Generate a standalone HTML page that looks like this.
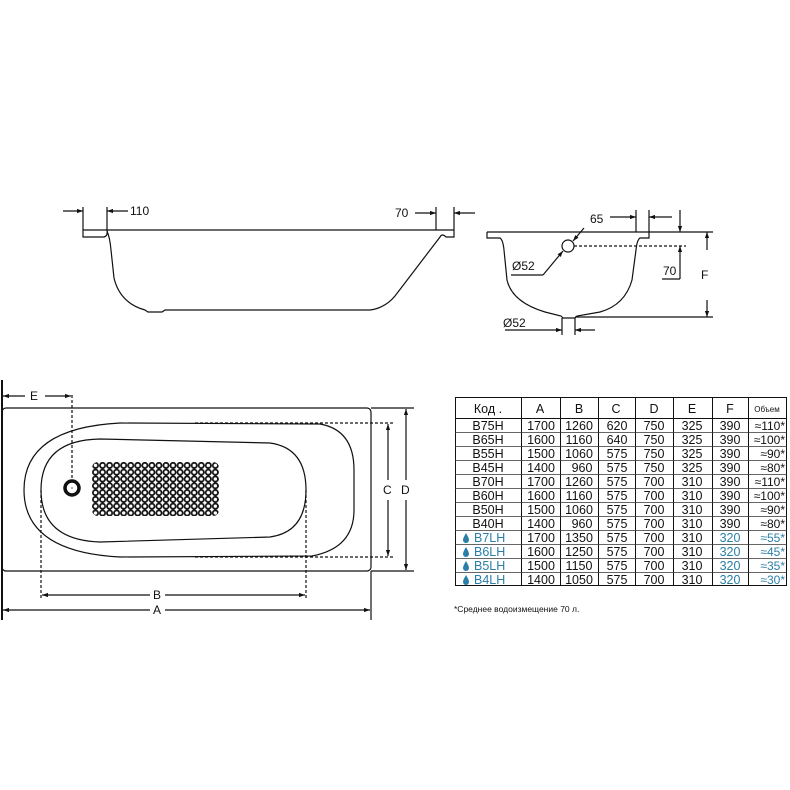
<!DOCTYPE html>
<html><head><meta charset="utf-8"><style>
body{margin:0;background:#fff}
svg{display:block}
text{font-family:"Liberation Sans","DejaVu Sans",sans-serif;fill:#111}
</style></head><body>
<svg width="790" height="790" viewBox="0 0 790 790" xmlns="http://www.w3.org/2000/svg">
<defs>
<marker id="ar" viewBox="0 0 10 10" refX="10" refY="5" markerWidth="7" markerHeight="5" orient="auto-start-reverse"><path d="M0,1.5 L10,5 L0,8.5 z" fill="#111"/></marker>
<pattern id="grid" x="92" y="462" width="7.05" height="6.8" patternUnits="userSpaceOnUse">
<circle cx="3.5" cy="3.4" r="2.6" fill="#fff" stroke="#111" stroke-width="1.8"/>
</pattern>
</defs>
<g fill="none" stroke="#111" stroke-width="1.2">
<line x1="83" y1="230" x2="454" y2="230"/>
<path d="M83,230 L83,237 L104,237 Q108,236 107,230"/>
<path d="M107,231 Q110,238 111,250 L114,278 Q120,303 145,310 L148,312 L162,312 L165,310 L370,310 Q385,308 395,296 L440,237 Q442,233 446,237 L454,237 L454,230"/>
<line x1="83" y1="207" x2="83" y2="230"/><line x1="107" y1="207" x2="107" y2="230"/>
<line x1="63" y1="211" x2="83" y2="211" marker-end="url(#ar)"/>
<line x1="128" y1="211" x2="107" y2="211" marker-end="url(#ar)"/>
<line x1="436" y1="207" x2="436" y2="230"/><line x1="454" y1="207" x2="454" y2="230"/>
<line x1="415" y1="213" x2="436" y2="213" marker-end="url(#ar)"/>
<line x1="475" y1="213" x2="454" y2="213" marker-end="url(#ar)"/>
<line x1="487" y1="232" x2="713" y2="232"/>
<path d="M487,232 L487,238 L500,238 Q503,240 504,250 L507,280 Q512,302 545,312 L561,316 L563,318 L575,318 L577,316 L600,312 Q625,305 632,280 L636,250 Q637,240 640,238 L649,238 L649,232"/>
<circle cx="568" cy="246" r="6"/>
<line x1="574" y1="246" x2="686" y2="246" stroke-dasharray="3,2"/>
<line x1="543" y1="275" x2="511" y2="275"/>
<line x1="543" y1="275" x2="563" y2="251" marker-end="url(#ar)"/>
<line x1="584" y1="228" x2="573" y2="241" marker-end="url(#ar)"/>
<line x1="636" y1="210" x2="636" y2="232"/><line x1="649" y1="210" x2="649" y2="232"/>
<line x1="610" y1="217" x2="636" y2="217" marker-end="url(#ar)"/>
<line x1="672" y1="217" x2="649" y2="217" marker-end="url(#ar)"/>
<line x1="680" y1="210" x2="680" y2="232" marker-end="url(#ar)"/>
<line x1="680" y1="268" x2="680" y2="246" marker-end="url(#ar)"/>
<line x1="680" y1="268" x2="680" y2="279"/><line x1="662" y1="279" x2="680" y2="279"/>
<line x1="707" y1="250" x2="707" y2="232" marker-end="url(#ar)"/>
<line x1="707" y1="300" x2="707" y2="317" marker-end="url(#ar)"/>
<line x1="575" y1="317" x2="713" y2="317"/>
<line x1="562" y1="318" x2="562" y2="335"/><line x1="575" y1="318" x2="575" y2="335"/>
<line x1="505" y1="330" x2="562" y2="330" marker-end="url(#ar)"/>
<line x1="595" y1="330" x2="575" y2="330" marker-end="url(#ar)"/>
<rect x="2" y="408" width="369" height="163" rx="4"/>
<line x1="2" y1="380" x2="2" y2="620" stroke-width="2"/>
<path d="M120,423 L320,424 Q354,430 354,470 L354,510 Q354,548 312,556 L120,557 Q24,552 24,490 Q24,428 120,423 Z"/>
<path d="M100,439 L270,443 Q306,448 306,490 Q306,532 270,537 L100,542 Q41,540 41,490 Q41,440 100,439 Z"/>
<line x1="195" y1="423" x2="395" y2="423" stroke-dasharray="3,2"/>
<line x1="195" y1="557" x2="395" y2="557" stroke-dasharray="3,2"/>
<line x1="371" y1="408" x2="414" y2="408"/><line x1="371" y1="571" x2="414" y2="571"/>
<line x1="371" y1="571" x2="371" y2="620"/>
<line x1="72" y1="395" x2="72" y2="481" stroke-dasharray="3,2"/>
<line x1="41" y1="490" x2="41" y2="600" stroke-dasharray="3,2"/>
<line x1="306" y1="490" x2="306" y2="600" stroke-dasharray="3,2"/>
<line x1="388" y1="480" x2="388" y2="424" marker-end="url(#ar)"/>
<line x1="388" y1="500" x2="388" y2="556" marker-end="url(#ar)"/>
<line x1="406" y1="480" x2="406" y2="409" marker-end="url(#ar)"/>
<line x1="406" y1="500" x2="406" y2="570" marker-end="url(#ar)"/>
<line x1="25" y1="396" x2="3" y2="396" marker-end="url(#ar)"/>
<line x1="45" y1="396" x2="71" y2="396" marker-end="url(#ar)"/>
<line x1="150" y1="595" x2="42" y2="595" marker-end="url(#ar)"/>
<line x1="165" y1="595" x2="305" y2="595" marker-end="url(#ar)"/>
<line x1="150" y1="610" x2="3" y2="610" marker-end="url(#ar)"/>
<line x1="165" y1="610" x2="370" y2="610" marker-end="url(#ar)"/>
</g>
<rect x="92" y="462" width="127" height="54" rx="6" fill="url(#grid)"/>
<circle cx="72" cy="488" r="7" fill="#fff" stroke="#111" stroke-width="3.5"/>
<circle cx="72" cy="488" r="1" fill="#999"/>
<g font-size="12">
<text x="130" y="215">110</text>
<text x="395" y="217">70</text>
<text x="590" y="223">65</text>
<text x="512" y="270">Ø52</text>
<text x="663" y="275">70</text>
<text x="701" y="279">F</text>
<text x="503" y="327">Ø52</text>
<text x="30" y="400">E</text>
<text x="383" y="494">C</text>
<text x="401" y="494">D</text>
<text x="153" y="599">B</text>
<text x="153" y="614">A</text>
</g>
<g stroke="#111" stroke-width="1" fill="none">
<rect x="455.5" y="397.5" width="331" height="188"/>
<line x1="455" y1="418.5" x2="787" y2="418.5"/>
<line x1="521.5" y1="397" x2="521.5" y2="586"/>
<line x1="560.5" y1="397" x2="560.5" y2="586"/>
<line x1="598.5" y1="397" x2="598.5" y2="586"/>
<line x1="635.5" y1="397" x2="635.5" y2="586"/>
<line x1="673.5" y1="397" x2="673.5" y2="586"/>
<line x1="712.5" y1="397" x2="712.5" y2="586"/>
<line x1="748.5" y1="397" x2="748.5" y2="586"/>
</g>
<g stroke="#333" stroke-width="0.8">
<line x1="455" y1="432.5" x2="787" y2="432.5"/><line x1="455" y1="446.5" x2="787" y2="446.5"/>
<line x1="455" y1="460.5" x2="787" y2="460.5"/><line x1="455" y1="474.5" x2="787" y2="474.5"/>
<line x1="455" y1="488.5" x2="787" y2="488.5"/><line x1="455" y1="502.5" x2="787" y2="502.5"/>
<line x1="455" y1="516.5" x2="787" y2="516.5"/><line x1="455" y1="530.5" x2="787" y2="530.5"/>
<line x1="455" y1="544.5" x2="787" y2="544.5"/><line x1="455" y1="558.5" x2="787" y2="558.5"/>
<line x1="455" y1="572.5" x2="787" y2="572.5"/>
</g>
<g font-size="12.5" text-anchor="middle">
<text x="488" y="413">Код .</text><text x="540" y="413">A</text><text x="579" y="413">B</text><text x="616" y="413">C</text><text x="654" y="413">D</text><text x="692" y="413">E</text><text x="730" y="413">F</text><text x="767" y="412" font-size="8">Объем</text>
</g>
<g font-size="12.5">
<g text-anchor="middle">
<text y="430"><tspan x="488">B75H</tspan><tspan x="541">1700</tspan><tspan x="579">1260</tspan><tspan x="617">620</tspan><tspan x="654">750</tspan><tspan x="692">325</tspan><tspan x="730">390</tspan></text>
<text y="444"><tspan x="488">B65H</tspan><tspan x="541">1600</tspan><tspan x="579">1160</tspan><tspan x="617">640</tspan><tspan x="654">750</tspan><tspan x="692">325</tspan><tspan x="730">390</tspan></text>
<text y="458"><tspan x="488">B55H</tspan><tspan x="541">1500</tspan><tspan x="579">1060</tspan><tspan x="617">575</tspan><tspan x="654">750</tspan><tspan x="692">325</tspan><tspan x="730">390</tspan></text>
<text y="472"><tspan x="488">B45H</tspan><tspan x="541">1400</tspan><tspan x="582">960</tspan><tspan x="617">575</tspan><tspan x="654">750</tspan><tspan x="692">325</tspan><tspan x="730">390</tspan></text>
<text y="486"><tspan x="488">B70H</tspan><tspan x="541">1700</tspan><tspan x="579">1260</tspan><tspan x="617">575</tspan><tspan x="654">700</tspan><tspan x="692">310</tspan><tspan x="730">390</tspan></text>
<text y="500"><tspan x="488">B60H</tspan><tspan x="541">1600</tspan><tspan x="579">1160</tspan><tspan x="617">575</tspan><tspan x="654">700</tspan><tspan x="692">310</tspan><tspan x="730">390</tspan></text>
<text y="514"><tspan x="488">B50H</tspan><tspan x="541">1500</tspan><tspan x="579">1060</tspan><tspan x="617">575</tspan><tspan x="654">700</tspan><tspan x="692">310</tspan><tspan x="730">390</tspan></text>
<text y="528"><tspan x="488">B40H</tspan><tspan x="541">1400</tspan><tspan x="582">960</tspan><tspan x="617">575</tspan><tspan x="654">700</tspan><tspan x="692">310</tspan><tspan x="730">390</tspan></text>
<text y="542"><tspan x="541">1700</tspan><tspan x="579">1350</tspan><tspan x="617">575</tspan><tspan x="654">700</tspan><tspan x="692">310</tspan></text>
<text y="556"><tspan x="541">1600</tspan><tspan x="579">1250</tspan><tspan x="617">575</tspan><tspan x="654">700</tspan><tspan x="692">310</tspan></text>
<text y="570"><tspan x="541">1500</tspan><tspan x="579">1150</tspan><tspan x="617">575</tspan><tspan x="654">700</tspan><tspan x="692">310</tspan></text>
<text y="584"><tspan x="541">1400</tspan><tspan x="579">1050</tspan><tspan x="617">575</tspan><tspan x="654">700</tspan><tspan x="692">310</tspan></text>
</g>
<g text-anchor="end" font-size="12">
<text x="785" y="430">≈110*</text><text x="785" y="444">≈100*</text><text x="785" y="458">≈90*</text><text x="785" y="472">≈80*</text>
<text x="785" y="486">≈110*</text><text x="785" y="500">≈100*</text><text x="785" y="514">≈90*</text><text x="785" y="528">≈80*</text>
</g>
<g>
<text x="474" y="542" style="fill:#2a7fa8">B7LH</text><text x="474" y="556" style="fill:#2a7fa8">B6LH</text><text x="474" y="570" style="fill:#2a7fa8">B5LH</text><text x="474" y="584" style="fill:#2a7fa8">B4LH</text>
<g text-anchor="middle"><text x="730" y="542" style="fill:#2a7fa8">320</text><text x="730" y="556" style="fill:#2a7fa8">320</text><text x="730" y="570" style="fill:#2a7fa8">320</text><text x="730" y="584" style="fill:#2a7fa8">320</text></g>
<g text-anchor="end" font-size="12"><text x="785" y="542" style="fill:#2a7fa8">≈55*</text><text x="785" y="556" style="fill:#2a7fa8">≈45*</text><text x="785" y="570" style="fill:#2a7fa8">≈35*</text><text x="785" y="584" style="fill:#2a7fa8">≈30*</text></g>
</g>
</g>
<g fill="#2a7fa8">
<path d="M466,533 Q463,538 463,540 A3,3 0 0 0 469,540 Q469,538 466,533Z"/>
<path d="M466,547 Q463,552 463,554 A3,3 0 0 0 469,554 Q469,552 466,547Z"/>
<path d="M466,561 Q463,566 463,568 A3,3 0 0 0 469,568 Q469,566 466,561Z"/>
<path d="M466,575 Q463,580 463,582 A3,3 0 0 0 469,582 Q469,580 466,575Z"/>
</g>
<text x="454" y="612" font-size="8.5">*Среднее водоизмещение 70 л.</text>
</svg>
</body></html>
